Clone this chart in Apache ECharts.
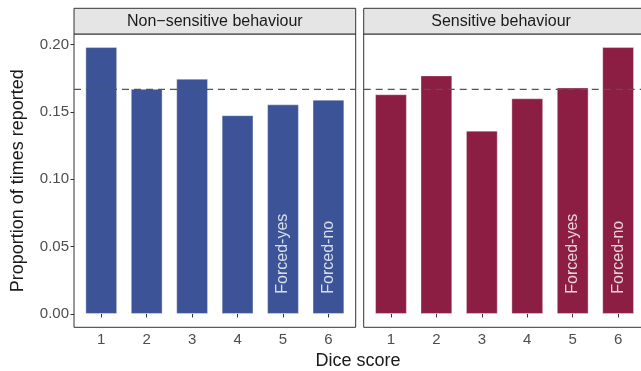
<!DOCTYPE html>
<html>
<head>
<meta charset="utf-8">
<script src="https://cdn.jsdelivr.net/npm/echarts@6/dist/echarts.min.js"></script>
<style>
  html, body { margin: 0; padding: 0; background: #fff; }
  #chart { width: 641px; height: 371px; }
</style>
</head>
<body>
<div id="chart"></div>
<script>
// Dice faces on the x axis
const diceScores = [1, 2, 3, 4, 5, 6];
// Proportion of times each face was reported
const nonSensitive = [0.198, 0.167, 0.1745, 0.1475, 0.1555, 0.159];
const sensitive = [0.163, 0.177, 0.136, 0.160, 0.168, 0.198];
// Expected share for a fair die
const expectedShare = 1 / 6;
// Faces that force an answer, and their in-bar labels
const forcedFaces = [5, 6];
const forcedLabels = ['Forced-yes', 'Forced-no'];
const forcedLabelY = 0.015;
// Axis ticks
const yTicks = [0, 0.05, 0.10, 0.15, 0.20];
const panelTitles = ['Non\u2212sensitive behaviour', 'Sensitive behaviour'];

const FONT = "'Liberation Sans', Arial, Helvetica, sans-serif";
const panelColors = ['#3C5497', '#8B1E42'];
const panels = [nonSensitive, sensitive];

// x range with the usual 0.6-unit padding around six categories
const X_MIN = 0.4, X_MAX = 6.6;
const PANEL_TOP = 34, PANEL_H = 293.3, PANEL_W = 281.7;
const STRIP_TOP = 8.3;
const panelLefts = [74, 363.7];

const chart = echarts.init(document.getElementById('chart'), null, { renderer: 'canvas' });

const grids = panelLefts.map(l => ({
  left: l, top: PANEL_TOP, width: PANEL_W, height: PANEL_H,
  outerBoundsMode: 'none', containLabel: false,
  show: true, borderColor: '#333333', borderWidth: 1, backgroundColor: 'transparent'
}));

const xAxes = panelLefts.map((l, i) => ({
  type: 'value', gridIndex: i, min: X_MIN, max: X_MAX,
  splitLine: { show: false },
  axisLine: { show: false },
  axisTick: { show: true, length: 3.5, lineStyle: { color: '#333333', width: 1 }, customValues: diceScores },
  axisLabel: { show: true, customValues: diceScores, color: '#4D4D4D', fontSize: 15, fontFamily: FONT, margin: 5,
               formatter: v => String(v) }
}));

const yAxes = panelLefts.map((l, i) => ({
  type: 'value', gridIndex: i, min: -0.0099, max: 0.2077,
  splitLine: { show: false },
  axisLine: { show: false },
  axisTick: { show: i === 0, length: 3.5, lineStyle: { color: '#333333', width: 1 }, customValues: yTicks },
  axisLabel: { show: i === 0, customValues: yTicks, color: '#4D4D4D', fontSize: 15, fontFamily: FONT, margin: 5,
               formatter: v => v.toFixed(2) }
}));

const series = [];
panels.forEach((vals, i) => {
  series.push({
    type: 'bar', xAxisIndex: i, yAxisIndex: i,
    data: diceScores.map((d, k) => [d, vals[k]]),
    barWidth: 31.8,
    itemStyle: { color: panelColors[i], borderColor: 'rgba(255,255,255,0.35)', borderWidth: 1 },
    silent: true, z: 2
  });
  // reference line at the fair-die share, across the whole panel
  series.push({
    type: 'line', xAxisIndex: i, yAxisIndex: i,
    data: [[X_MIN, expectedShare], [X_MAX, expectedShare]],
    symbol: 'none', silent: true, z: 8,
    lineStyle: { color: '#555555', type: [7, 5], width: 1.3 }
  });
  series.push({
    type: 'scatter', xAxisIndex: i, yAxisIndex: i,
    data: forcedFaces.map((f, k) => [f, forcedLabelY, forcedLabels[k]]),
    symbolSize: 0, silent: true, z: 9,
    label: {
      show: true, position: [0, 0], rotate: 90, align: 'left', verticalAlign: 'middle',
      color: '#FFFFFF', fontSize: 16, fontFamily: FONT,
      formatter: p => p.value[2]
    }
  });
});

const graphics = [];
panelLefts.forEach((l, i) => {
  graphics.push({
    type: 'rect', silent: true, z: 10,
    shape: { x: l, y: STRIP_TOP, width: PANEL_W, height: PANEL_TOP - STRIP_TOP },
    style: { fill: '#E5E5E5', stroke: '#333333', lineWidth: 1 }
  });
  graphics.push({
    type: 'text', x: l + PANEL_W / 2 - (i === 1 ? 3.5 : 0), y: 21.5, silent: true, z: 11,
    style: { text: panelTitles[i], fill: '#1A1A1A', font: '16px ' + FONT, textAlign: 'center', textVerticalAlign: 'middle' }
  });
});
graphics.push({
  type: 'text', x: 358, y: 361, silent: true,
  style: { text: 'Dice score', fill: '#1A1A1A', font: '18px ' + FONT, textAlign: 'center', textVerticalAlign: 'middle' }
});
graphics.push({
  type: 'text', x: 18, y: 180.7, rotation: Math.PI / 2, silent: true,
  style: { text: 'Proportion of times reported', fill: '#1A1A1A', font: '18px ' + FONT, textAlign: 'center', textVerticalAlign: 'middle' }
});

chart.setOption({
  animation: false,
  backgroundColor: '#FFFFFF',
  grid: grids,
  xAxis: xAxes,
  yAxis: yAxes,
  series: series,
  graphic: graphics
});
</script>
</body>
</html>
